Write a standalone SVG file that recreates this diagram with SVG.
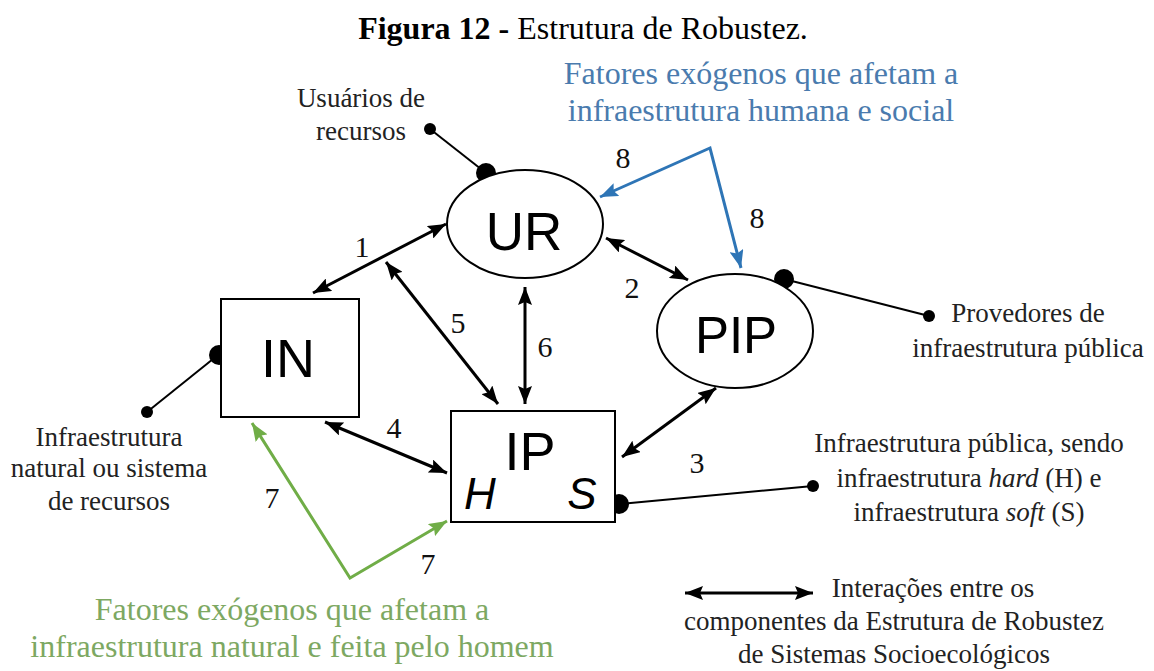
<svg xmlns="http://www.w3.org/2000/svg" width="1154" height="671" viewBox="0 0 1154 671">
<style>
.lbl{fill:#222;font-size:27px;text-anchor:middle}
.num{fill:#111;font-size:30px;text-anchor:middle}
.node{fill:#000;text-anchor:middle}
.shape{fill:#fff;stroke:#000;stroke-width:2}
.con{fill:none;stroke:#000;stroke-width:3}
.thin{fill:none;stroke:#000;stroke-width:2}
.blue{fill:none;stroke:#2E75B6;stroke-width:3}
.green{fill:none;stroke:#70AD47;stroke-width:3}
.bt{fill:#4A7BAE;font-size:32px;text-anchor:middle}
.gt{fill:#7DA862;font-size:32px;text-anchor:middle}
</style>
<defs>
<marker id="ah" markerUnits="userSpaceOnUse" markerWidth="20" markerHeight="14" refX="18" refY="7" orient="auto-start-reverse"><path d="M0,0 L18,7 L0,14 L3,7 z" fill="#000"/></marker>
<marker id="ab" markerUnits="userSpaceOnUse" markerWidth="20" markerHeight="14" refX="18" refY="7" orient="auto-start-reverse"><path d="M0,0 L18,7 L0,14 L3,7 z" fill="#2E75B6"/></marker>
<marker id="ag" markerUnits="userSpaceOnUse" markerWidth="20" markerHeight="14" refX="18" refY="7" orient="auto-start-reverse"><path d="M0,0 L18,7 L0,14 L3,7 z" fill="#70AD47"/></marker>
</defs>
<rect width="1154" height="671" fill="#fff"/>
<text x="583" y="39" font-family="Liberation Serif,Times New Roman,serif" font-size="32" text-anchor="middle" fill="#000"><tspan font-weight="bold">Figura 12 -</tspan> Estrutura de Robustez.</text>

<g id="connectors">
<line class="con" x1="313" y1="293" x2="446" y2="224" marker-start="url(#ah)" marker-end="url(#ah)"/>
<line class="con" x1="386" y1="262" x2="498" y2="404" marker-start="url(#ah)" marker-end="url(#ah)"/>
<line class="con" x1="525" y1="287" x2="525" y2="404" marker-start="url(#ah)" marker-end="url(#ah)"/>
<line class="con" x1="606" y1="238" x2="688" y2="280" marker-start="url(#ah)" marker-end="url(#ah)"/>
<line class="con" x1="622" y1="457" x2="716" y2="388" marker-start="url(#ah)" marker-end="url(#ah)"/>
<line class="con" x1="325" y1="422" x2="447" y2="473" marker-start="url(#ah)" marker-end="url(#ah)"/>
<path class="blue" d="M600,197 L710,148 L741,268" marker-start="url(#ab)" marker-end="url(#ab)"/>
<path class="green" d="M252,423 L350,578 L447,521" marker-start="url(#ag)" marker-end="url(#ag)"/>
<line class="thin" x1="430" y1="129" x2="486" y2="173"/>
<circle cx="430" cy="129" r="6"/>
<circle cx="486" cy="173" r="10"/>
<line class="thin" x1="147" y1="412" x2="218" y2="355"/>
<circle cx="147" cy="412" r="6"/>
<circle cx="219" cy="355" r="10"/>
<line class="thin" x1="620" y1="504" x2="813" y2="486"/>
<circle cx="813" cy="486" r="6"/>
<circle cx="619" cy="504" r="10"/>
<line class="thin" x1="784" y1="279" x2="929" y2="316"/>
<circle cx="929" cy="316" r="6"/>
<circle cx="784" cy="279" r="10"/>
<line class="con" x1="685" y1="593" x2="813" y2="593" marker-start="url(#ah)" marker-end="url(#ah)"/>
</g>

<g id="node-UR">
<ellipse class="shape" cx="525" cy="224" rx="78" ry="54"/>
<text class="node" x="524" y="250" font-family="Liberation Sans,Arial,sans-serif" font-size="53">UR</text>
</g>
<g id="node-PIP">
<ellipse class="shape" cx="735" cy="331" rx="78" ry="57"/>
<text class="node" x="736" y="353" font-family="Liberation Sans,Arial,sans-serif" font-size="51">PIP</text>
</g>
<g id="node-IN">
<rect class="shape" x="221" y="299" width="138" height="118"/>
<text class="node" x="288" y="377" font-family="Liberation Sans,Arial,sans-serif" font-size="54">IN</text>
</g>
<g id="node-IP">
<rect class="shape" x="451" y="411" width="164" height="111"/>
<text class="node" x="530" y="470" font-family="Liberation Sans,Arial,sans-serif" font-size="54">IP</text>
<text class="node" x="480" y="509" font-family="Liberation Sans,Arial,sans-serif" font-size="44" font-style="italic">H</text>
<text class="node" x="582" y="509" font-family="Liberation Sans,Arial,sans-serif" font-size="44" font-style="italic">S</text>
</g>

<g id="numbers">
<text class="num" font-family="Liberation Serif,Times New Roman,serif" x="362" y="257">1</text>
<text class="num" font-family="Liberation Serif,Times New Roman,serif" x="632" y="298">2</text>
<text class="num" font-family="Liberation Serif,Times New Roman,serif" x="697" y="473">3</text>
<text class="num" font-family="Liberation Serif,Times New Roman,serif" x="394" y="438">4</text>
<text class="num" font-family="Liberation Serif,Times New Roman,serif" x="458" y="333">5</text>
<text class="num" font-family="Liberation Serif,Times New Roman,serif" x="545" y="357">6</text>
<text class="num" font-family="Liberation Serif,Times New Roman,serif" x="272" y="508">7</text>
<text class="num" font-family="Liberation Serif,Times New Roman,serif" x="428" y="574">7</text>
<text class="num" font-family="Liberation Serif,Times New Roman,serif" x="623" y="168">8</text>
<text class="num" font-family="Liberation Serif,Times New Roman,serif" x="757" y="228">8</text>
</g>

<g id="labels">
<text class="lbl" font-family="Liberation Serif,Times New Roman,serif" x="361" y="107">Usuários de</text>
<text class="lbl" font-family="Liberation Serif,Times New Roman,serif" x="361" y="140">recursos</text>
<text class="lbl" font-family="Liberation Serif,Times New Roman,serif" x="1028" y="322">Provedores de</text>
<text class="lbl" font-family="Liberation Serif,Times New Roman,serif" x="1028" y="357">infraestrutura pública</text>
<text class="lbl" font-family="Liberation Serif,Times New Roman,serif" x="109" y="446">Infraestrutura</text>
<text class="lbl" font-family="Liberation Serif,Times New Roman,serif" x="109" y="477">natural ou sistema</text>
<text class="lbl" font-family="Liberation Serif,Times New Roman,serif" x="109" y="510">de recursos</text>
<text class="lbl" font-family="Liberation Serif,Times New Roman,serif" x="969" y="452">Infraestrutura pública, sendo</text>
<text class="lbl" font-family="Liberation Serif,Times New Roman,serif" x="969" y="487">infraestrutura <tspan font-style="italic">hard</tspan> (H) e</text>
<text class="lbl" font-family="Liberation Serif,Times New Roman,serif" x="969" y="521">infraestrutura <tspan font-style="italic">soft</tspan> (S)</text>
<text class="lbl" font-family="Liberation Serif,Times New Roman,serif" x="933" y="597">Interações entre os</text>
<text class="lbl" font-family="Liberation Serif,Times New Roman,serif" x="894" y="630">componentes da Estrutura de Robustez</text>
<text class="lbl" font-family="Liberation Serif,Times New Roman,serif" x="894" y="663">de Sistemas Socioecológicos</text>
<text class="bt" font-family="Liberation Serif,Times New Roman,serif" x="761" y="84">Fatores exógenos que afetam a</text>
<text class="bt" font-family="Liberation Serif,Times New Roman,serif" x="761" y="121">infraestrutura humana e social</text>
<text class="gt" font-family="Liberation Serif,Times New Roman,serif" x="292" y="620">Fatores exógenos que afetam a</text>
<text class="gt" font-family="Liberation Serif,Times New Roman,serif" x="292" y="657">infraestrutura natural e feita pelo homem</text>
</g>
</svg>
